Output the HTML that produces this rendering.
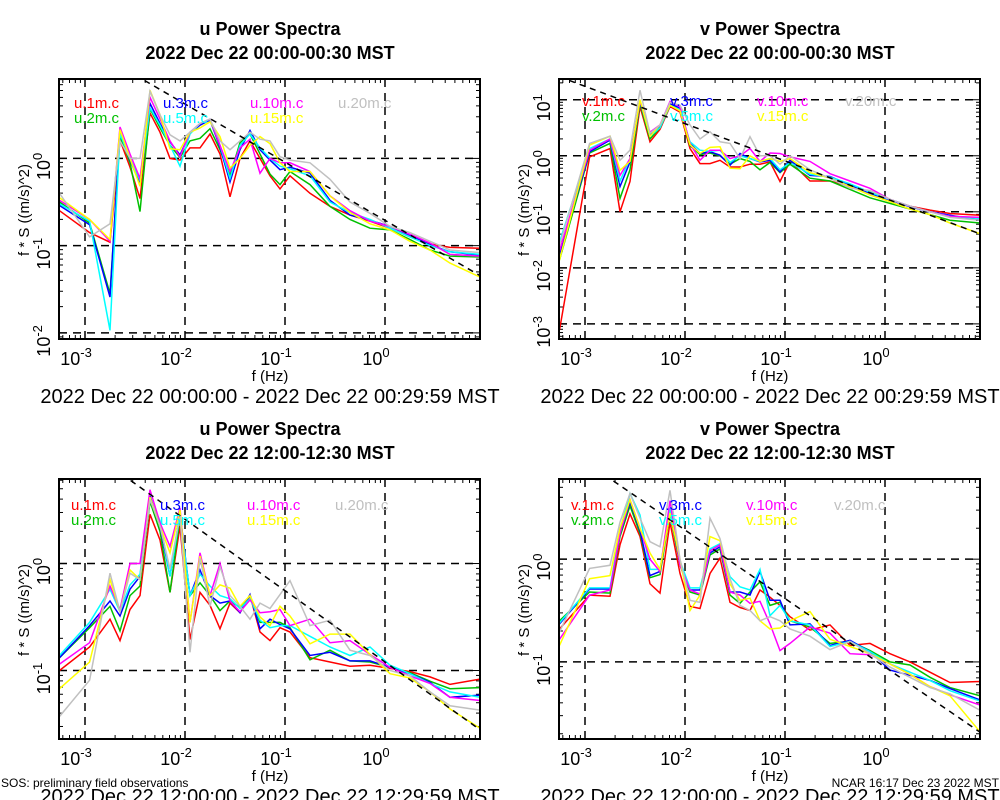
<!DOCTYPE html>
<html><head><meta charset="utf-8"><style>
html,body{margin:0;padding:0;background:#fff;}
svg{display:block;font-family:"Liberation Sans",sans-serif;}
</style></head><body>
<svg id="c" width="1000" height="800" viewBox="0 0 1000 800"></svg>
<script>
const freqLog=[-3.255,-2.954,-2.75,-2.65,-2.55,-2.45,-2.35,-2.25,-2.15,-2.05,-1.95,-1.85,-1.75,-1.65,-1.55,-1.45,-1.35,-1.25,-1.15,-1.05,-0.95,-0.75,-0.55,-0.35,-0.15,0.05,0.25,0.45,0.65,0.95];
const seriesHeights=["1m","2m","3m","5m","10m","15m","20m"];
const seriesColors=["#ff0000","#00c000","#0000ff","#00ffff","#ff00ff","#ffff00","#c0c0c0"];
// log10 of f*S per series (order: 1m,2m,3m,5m,10m,15m,20m)
const tlRed=[-0.60,-0.85,-0.96,0.21,-0.10,-0.46,0.52,0.30,0.00,-0.02,0.12,0.12,0.28,0.05,-0.44,0.00,0.20,0.00,-0.20,-0.35,-0.20,-0.40,-0.55,-0.65,-0.72,-0.80,-0.90,-0.98,-1.02,-1.03];
const tlGreen=[-0.50,-0.74,-1.55,0.25,-0.05,-0.61,0.57,0.35,0.15,0.01,0.20,0.23,0.34,0.10,-0.20,0.18,0.28,0.05,-0.18,-0.30,-0.15,-0.30,-0.55,-0.70,-0.80,-0.82,-0.93,-1.05,-1.12,-1.13];
const tlBlue=[-0.54,-0.76,-1.59,0.31,-0.02,-0.29,0.63,0.40,0.19,0.04,0.29,0.38,0.44,0.13,-0.27,0.10,0.32,0.10,-0.02,-0.13,-0.10,-0.17,-0.48,-0.65,-0.71,-0.78,-0.88,-0.99,-1.07,-1.11];
const tlCyan=[-0.52,-0.72,-1.97,0.28,0.00,-0.25,0.58,0.38,0.15,-0.09,0.28,0.40,0.45,0.15,-0.23,0.15,0.28,0.12,0.00,-0.09,-0.12,-0.20,-0.50,-0.62,-0.70,-0.80,-0.90,-1.00,-1.07,-1.10];
const tlMagenta=[-0.48,-0.70,-0.95,0.36,0.05,-0.23,0.70,0.45,0.20,0.02,0.30,0.40,0.45,0.15,-0.15,0.12,0.22,-0.17,0.00,-0.05,-0.05,-0.15,-0.43,-0.60,-0.72,-0.78,-0.87,-0.97,-1.10,-1.12];
const tlYellow=[-0.45,-0.70,-0.93,0.33,0.00,-0.32,0.78,0.50,0.11,0.10,0.30,0.35,0.42,0.25,-0.11,0.00,0.15,0.25,0.17,-0.05,-0.15,-0.15,-0.43,-0.62,-0.75,-0.82,-0.95,-1.05,-1.20,-1.36];
const tlGray=[-0.40,-0.90,-0.75,0.20,0.00,0.00,0.77,0.50,0.27,0.20,0.30,0.40,0.45,0.20,0.10,0.20,0.30,0.22,0.20,0.02,-0.02,-0.05,-0.24,-0.50,-0.63,-0.78,-0.85,-0.95,-1.05,-1.08];
const trRed=[-3.11,-0.02,0.13,-1.0,-0.46,0.88,0.25,0.47,0.88,0.78,0.13,-0.14,-0.14,-0.08,-0.2,-0.2,-0.15,-0.15,-0.11,-0.46,-0.1,-0.45,-0.45,-0.55,-0.65,-0.78,-0.9,-0.97,-1.03,-1.06];
const trGreen=[-1.86,0.05,0.22,-0.76,-0.25,0.93,0.3,0.5,0.9,0.82,0.18,0.02,0.05,0.0,-0.15,-0.05,-0.1,-0.25,-0.12,-0.3,-0.15,-0.4,-0.45,-0.6,-0.75,-0.85,-0.95,-1.05,-1.15,-1.2];
const trBlue=[-1.75,0.07,0.28,-0.55,-0.11,0.96,0.37,0.52,0.93,0.85,0.22,0.04,0.07,0.01,-0.17,0.04,-0.05,-0.11,-0.08,-0.29,-0.08,-0.35,-0.37,-0.52,-0.67,-0.79,-0.91,-1.0,-1.06,-1.15];
const trCyan=[-1.54,0.13,0.3,-0.45,-0.05,0.98,0.35,0.5,0.9,0.82,0.25,0.1,0.08,0.1,-0.12,0.0,-0.05,-0.1,-0.05,-0.25,-0.12,-0.33,-0.38,-0.5,-0.65,-0.78,-0.9,-1.0,-1.08,-1.12];
const trMagenta=[-1.7,0.1,0.3,-0.35,-0.05,0.97,0.42,0.55,0.97,0.87,0.22,-0.08,0.1,0.1,-0.05,0.0,0.13,-0.1,0.05,0.04,-0.02,-0.1,-0.32,-0.45,-0.58,-0.78,-0.9,-1.0,-1.08,-1.1];
const trYellow=[-1.86,0.19,0.35,-0.26,-0.1,1.0,0.35,0.55,0.9,0.8,0.2,0.04,0.15,0.16,-0.22,-0.23,0.0,-0.1,-0.05,-0.1,-0.05,-0.3,-0.4,-0.55,-0.7,-0.82,-0.95,-1.05,-1.2,-1.39];
const trGray=[-1.6,0.22,0.35,-0.08,0.1,1.17,0.4,0.55,0.95,0.9,0.55,0.3,0.43,0.25,0.22,-0.05,0.34,0.0,0.0,-0.15,0.0,-0.25,-0.4,-0.58,-0.62,-0.78,-0.9,-1.0,-1.1,-1.15];
const blRed=[-1.0,-0.78,-0.52,-0.72,-0.43,-0.3,0.46,0.22,-0.27,0.35,-0.71,-0.27,-0.39,-0.61,-0.37,-0.46,-0.3,-0.64,-0.72,-0.6,-0.64,-0.88,-0.92,-0.96,-0.95,-0.98,-1.01,-1.06,-1.13,-1.08];
const blGreen=[-0.88,-0.6,-0.4,-0.63,-0.3,-0.21,0.58,0.3,-0.27,0.43,-0.3,-0.18,-0.3,-0.44,-0.35,-0.41,-0.3,-0.55,-0.55,-0.55,-0.6,-0.9,-0.81,-0.91,-0.92,-0.97,-1.02,-1.1,-1.17,-1.16];
const blBlue=[-0.88,-0.58,-0.35,-0.49,-0.24,-0.12,0.63,0.35,-0.12,0.47,-0.3,-0.06,-0.3,-0.37,-0.35,-0.46,-0.29,-0.61,-0.52,-0.57,-0.61,-0.86,-0.83,-0.91,-0.91,-0.97,-1.03,-1.11,-1.25,-1.23];
const blCyan=[-0.86,-0.55,-0.24,-0.45,-0.2,-0.1,0.6,0.4,-0.12,0.45,-0.3,-0.1,-0.21,-0.3,-0.33,-0.42,-0.33,-0.53,-0.6,-0.58,-0.58,-0.68,-0.78,-0.86,-0.78,-0.95,-1.03,-1.12,-1.2,-1.25];
const blMagenta=[-0.94,-0.74,-0.21,-0.43,0.0,0.0,0.69,0.38,0.16,0.52,-0.55,0.1,-0.3,0.0,-0.35,-0.45,-0.34,-0.46,-0.45,-0.43,-0.58,-0.52,-0.74,-0.72,-0.85,-0.97,-1.05,-1.12,-1.25,-1.28];
const blYellow=[-1.17,-0.92,-0.15,-0.45,-0.06,-0.15,0.62,0.35,0.1,0.5,-0.55,0.07,-0.3,-0.2,-0.23,-0.4,-0.3,-0.5,-0.58,-0.4,-0.49,-0.75,-0.66,-0.66,-0.85,-1.03,-1.07,-1.2,-1.36,-1.54];
const blGray=[-1.43,-1.09,-0.09,-0.45,-0.09,-0.15,0.6,0.35,-0.05,0.45,-0.83,0.05,-0.4,-0.03,-0.3,-0.4,-0.52,-0.37,-0.42,-0.29,-0.16,-0.58,-0.53,-0.81,-0.86,-1.0,-1.05,-1.2,-1.33,-1.37];
const brRed=[-0.68,-0.35,-0.36,0.14,0.44,0.22,-0.24,-0.33,0.36,-0.14,-0.46,-0.48,-0.14,0.01,-0.42,-0.47,-0.5,-0.3,-0.37,-0.45,-0.56,-0.69,-0.64,-0.84,-0.82,-0.92,-1.0,-1.1,-1.2,-1.19];
const brGreen=[-0.6,-0.32,-0.33,0.22,0.52,0.25,-0.18,-0.15,0.45,-0.06,-0.32,-0.35,0.04,0.1,-0.35,-0.43,-0.32,-0.22,-0.45,-0.42,-0.6,-0.66,-0.82,-0.8,-0.89,-1.0,-1.03,-1.15,-1.25,-1.33];
const brBlue=[-0.63,-0.29,-0.29,0.25,0.56,0.28,-0.16,-0.12,0.48,-0.04,-0.3,-0.3,0.06,0.12,-0.32,-0.32,-0.35,-0.12,-0.4,-0.4,-0.64,-0.63,-0.84,-0.79,-0.9,-1.08,-1.13,-1.18,-1.26,-1.37];
const brCyan=[-0.62,-0.28,-0.28,0.28,0.64,0.43,-0.1,-0.1,0.5,-0.02,-0.28,-0.28,0.1,0.15,-0.17,-0.27,-0.3,-0.1,-0.55,-0.45,-0.6,-0.64,-0.85,-0.8,-0.9,-1.02,-1.1,-1.18,-1.28,-1.38];
const brMagenta=[-0.78,-0.35,-0.3,0.25,0.58,0.3,0.0,-0.12,0.57,-0.06,-0.3,-0.34,0.08,0.14,-0.32,-0.35,-0.43,-0.41,-0.63,-0.89,-0.82,-0.66,-0.72,-0.92,-0.93,-1.02,-1.12,-1.24,-1.32,-1.42];
const brYellow=[-0.84,-0.19,-0.16,0.3,0.58,0.3,0.06,-0.1,0.45,0.0,-0.5,-0.35,0.22,0.18,-0.24,-0.4,-0.38,-0.6,-0.68,-0.67,-0.6,-0.51,-0.78,-0.85,-0.92,-1.02,-1.12,-1.24,-1.33,-1.68];
const brGray=[-0.71,-0.09,-0.06,0.36,0.64,0.4,0.17,0.12,0.67,0.0,-0.4,-0.42,0.4,0.2,-0.19,-0.45,-0.5,-0.6,-0.56,-0.6,-0.68,-0.75,-0.88,-0.8,-0.92,-1.05,-1.15,-1.25,-1.31,-1.47];
const refIntercepts=[-0.71,-0.76,-0.92,-1.05];
const xTickExps=[-3,-2,-1,0];

const NS="http://www.w3.org/2000/svg";
const svg=document.getElementById('c');
function mk(tag,attrs,parent){const e=document.createElementNS(NS,tag);for(const k in attrs)e.setAttribute(k,attrs[k]);(parent||svg).appendChild(e);return e;}

const panels=[
 {id:'u-morning',comp:'u',ox:0,oy:0,ymax:0.91,ymin:-2.07,yExps:[-2,-1,0],data:[tlRed,tlGreen,tlBlue,tlCyan,tlMagenta,tlYellow,tlGray],ref:refIntercepts[0],sub:'2022 Dec 22 00:00-00:30 MST',range:'2022 Dec 22 00:00:00 - 2022 Dec 22 00:29:59 MST',legY:0},
 {id:'v-morning',comp:'v',ox:500,oy:0,ymax:1.37,ymin:-3.27,yExps:[-3,-2,-1,0,1],data:[trRed,trGreen,trBlue,trCyan,trMagenta,trYellow,trGray],ref:refIntercepts[1],sub:'2022 Dec 22 00:00-00:30 MST',range:'2022 Dec 22 00:00:00 - 2022 Dec 22 00:29:59 MST',legY:-2},
 {id:'u-afternoon',comp:'u',ox:0,oy:400,ymax:0.79,ymin:-1.64,yExps:[-1,0],data:[blRed,blGreen,blBlue,blCyan,blMagenta,blYellow,blGray],ref:refIntercepts[2],sub:'2022 Dec 22 12:00-12:30 MST',range:'2022 Dec 22 12:00:00 - 2022 Dec 22 12:29:59 MST',legY:2},
 {id:'v-afternoon',comp:'v',ox:500,oy:400,ymax:0.78,ymin:-1.75,yExps:[-1,0],data:[brRed,brGreen,brBlue,brCyan,brMagenta,brYellow,brGray],ref:refIntercepts[3],sub:'2022 Dec 22 12:00-12:30 MST',range:'2022 Dec 22 12:00:00 - 2022 Dec 22 12:29:59 MST',legY:2}
];
panels[0].legX=[74,163,250,338];
panels[1].legX=[82,170,257,345];
panels[2].legX=[71,160,247,335];
panels[3].legX=[71,159,246,334];

const XMIN=-3.26,XMAX=0.95;
panels.forEach((p,pi)=>{
  const g=mk('g',{});
  
  
  const x0=p.ox+59,x1=p.ox+480,y0=p.oy+79,y1=p.oy+339;
  const sx=v=>x0+(v-XMIN)/(XMAX-XMIN)*(x1-x0);
  const sy=v=>y0+(p.ymax-v)/(p.ymax-p.ymin)*(y1-y0);
  const cx=p.ox+270;
  const t1=mk('text',{x:cx,y:p.oy+35,'text-anchor':'middle','font-size':'18','font-weight':'bold'},g);t1.textContent=p.comp+' Power Spectra';
  
  const t2=mk('text',{x:cx,y:p.oy+59,'text-anchor':'middle','font-size':'18','font-weight':'bold'},g);t2.textContent=p.sub;
  
  const cp=mk('clipPath',{id:'cp'+pi},g);mk('rect',{x:x0,y:y0,width:x1-x0,height:y1-y0},cp);
  xTickExps.forEach(e=>{const l=mk('line',{x1:sx(e),x2:sx(e),y1:y0,y2:y1,stroke:'#000','stroke-width':1.5,'stroke-dasharray':'8,6'},g);
    });
  p.yExps.forEach(e=>{const l=mk('line',{x1:x0,x2:x1,y1:sy(e),y2:sy(e),stroke:'#000','stroke-width':1.5,'stroke-dasharray':'8,6'},g);
    });
  for(let d=-4;d<=1;d++)for(let m=1;m<10;m++){const v=d+Math.log10(m);if(v<XMIN||v>XMAX)continue;const L=m==1?8:4;
    mk('line',{x1:sx(v),x2:sx(v),y1:y1,y2:y1-L,stroke:'#000'},g);mk('line',{x1:sx(v),x2:sx(v),y1:y0,y2:y0+L,stroke:'#000'},g);}
  for(let d=-4;d<=2;d++)for(let m=1;m<10;m++){const v=d+Math.log10(m);if(v<p.ymin||v>p.ymax)continue;const L=m==1?8:4;
    mk('line',{x1:x0,x2:x0+L,y1:sy(v),y2:sy(v),stroke:'#000'},g);mk('line',{x1:x1,x2:x1-L,y1:sy(v),y2:sy(v),stroke:'#000'},g);}
  const sg=mk('g',{'clip-path':'url(#cp'+pi+')'},g);
  p.data.forEach((arr,si)=>{
    const d=arr.map((v,i)=>(i?'L':'M')+sx(freqLog[i]).toFixed(1)+','+sy(v).toFixed(1)).join('');
    const pa=mk('path',{d:d,fill:'none',stroke:seriesColors[si],'stroke-width':1.5},sg);
    
    
  });
  const rl=mk('line',{x1:sx(XMIN),y1:sy(p.ref+2/3*(-XMIN)),x2:sx(XMAX),y2:sy(p.ref-2/3*XMAX),stroke:'#000','stroke-width':1.5,'stroke-dasharray':'6,5'},sg);
  
  const bx=mk('rect',{x:x0,y:y0,width:x1-x0,height:y1-y0,fill:'none',stroke:'#000','stroke-width':2},g);
  
  xTickExps.forEach(e=>{const t=mk('text',{x:sx(e)-9,y:y1+26,'font-size':'18','text-anchor':'middle'},g);
    t.innerHTML='10<tspan dy="-8" font-size="13">'+e+'</tspan>';
    });
  p.yExps.forEach(e=>{const t=mk('text',{x:0,y:0,'font-size':'18','text-anchor':'middle',transform:'translate('+(p.ox+50)+','+(sy(e)+8)+') rotate(-90)'},g);
    t.innerHTML='10<tspan dy="-8" font-size="13">'+e+'</tspan>';
    });
  const xl=mk('text',{x:cx,y:y1+42,'font-size':'15','text-anchor':'middle'},g);xl.textContent='f (Hz)';
  
  const yl=mk('text',{x:0,y:0,'font-size':'15','text-anchor':'middle',transform:'translate('+(p.ox+29)+','+(p.oy+210)+') rotate(-90)'},g);yl.textContent='f * S ((m/s)^2)';
  
  const rt=mk('text',{x:cx,y:y1+64,'font-size':'20','text-anchor':'middle'},g);rt.textContent=p.range;
  
  seriesHeights.forEach((h,si)=>{const col=Math.floor(si/2),row=si%2;
    const t=mk('text',{x:p.ox+p.legX[col],y:p.oy+108+p.legY+row*15,'font-size':'15',fill:seriesColors[si]},g);
    t.textContent=p.comp+'.'+h+'.c';
    });
});
const f1=mk('text',{x:1,y:787,'font-size':'12'});f1.textContent='SOS: preliminary field observations';

const f2=mk('text',{x:999,y:787,'font-size':'12','text-anchor':'end'});f2.textContent='NCAR 16:17 Dec 23 2022 MST';

</script>
</body></html>
